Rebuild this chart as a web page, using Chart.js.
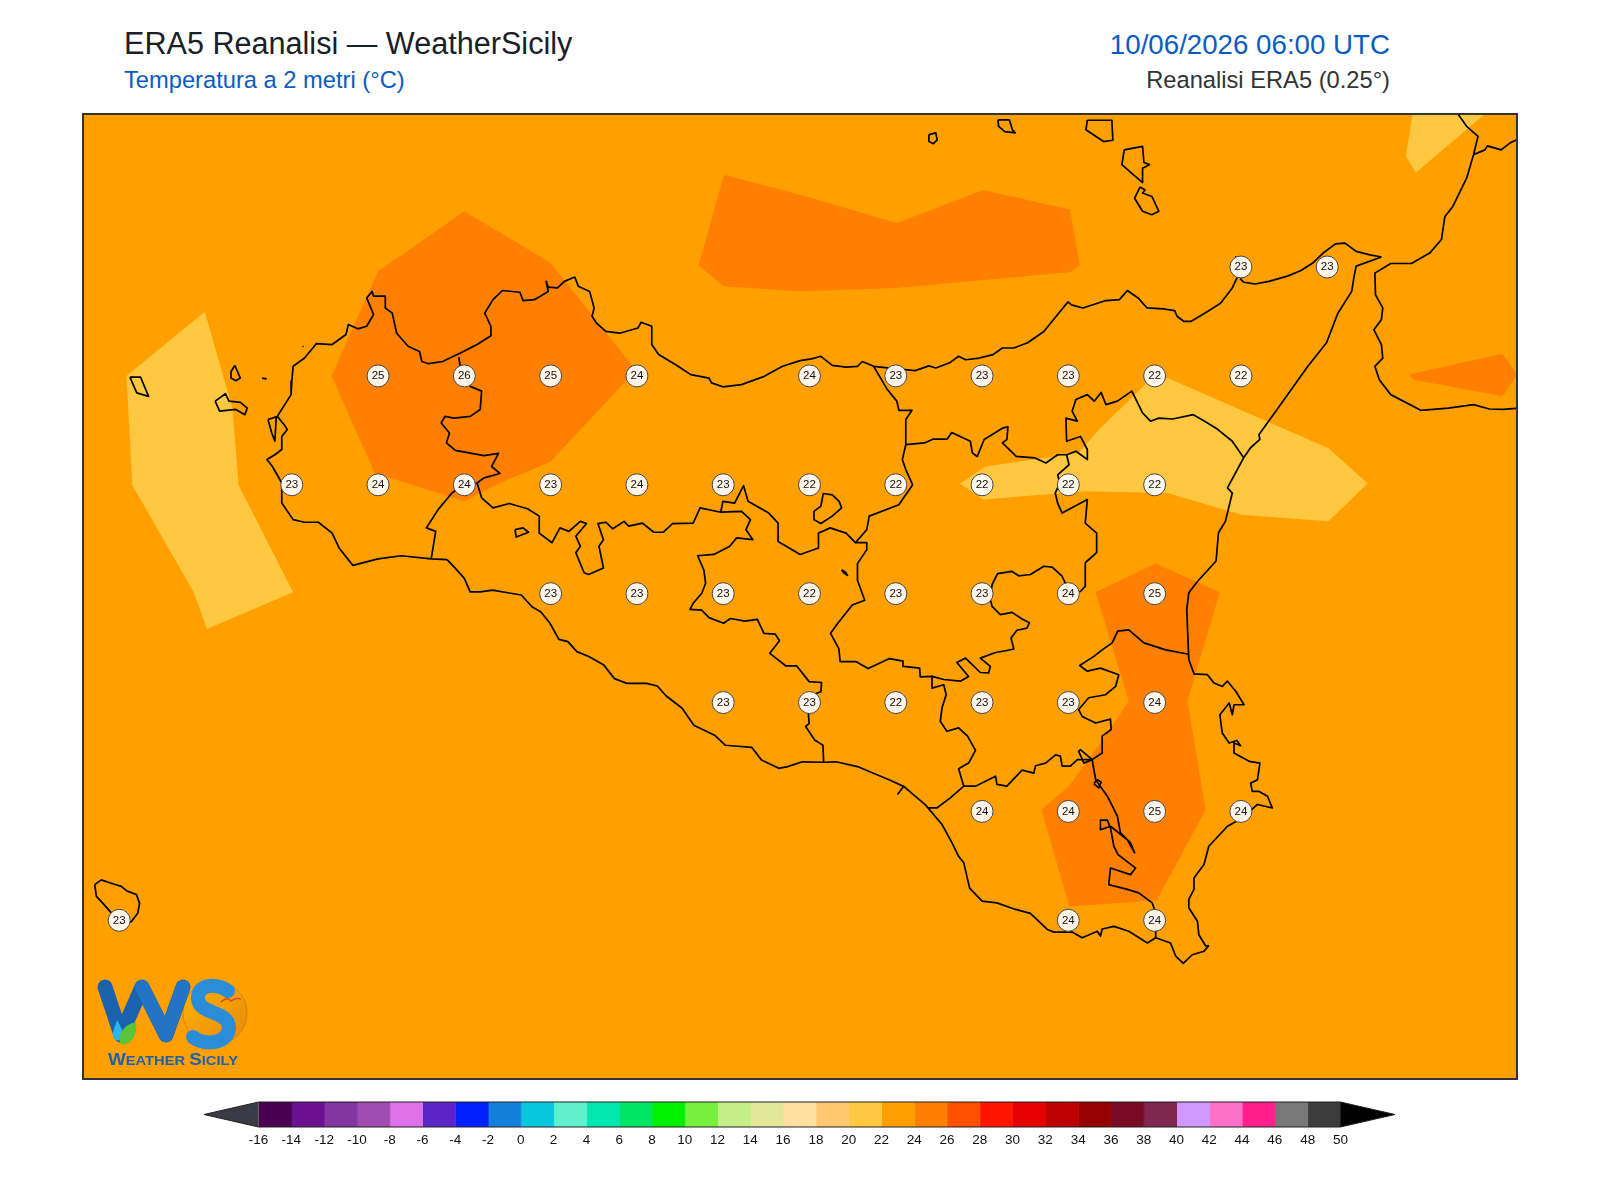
<!DOCTYPE html>
<html lang="it">
<head>
<meta charset="utf-8">
<title>ERA5 Reanalisi — WeatherSicily</title>
<script src="https://cdn.jsdelivr.net/npm/chart.js@4"></script>
<style>
    body { margin: 0; background: #fff; font-family: "Liberation Sans", Arial, sans-serif; }
    .txt { position: absolute; white-space: nowrap; }
    #titolo { left: 124px; top: 25px; font-size: 30.6px; line-height: 36px; color: #1a2028; }
    #sottotitolo { left: 124px; top: 66px; font-size: 23.7px; line-height: 28px; color: #0b5cc0; }
    #data { right: 210px; top: 30px; font-size: 27.7px; line-height: 30px; color: #0b5cc0; }
    #fonte { right: 210px; top: 66px; font-size: 23.7px; line-height: 28px; color: #333; }
    #cornice { position: absolute; left: 82px; top: 113px; width: 1432px; height: 963px; border: 2px solid #333; }
    #mappa { display: block; }
    #barra { position: absolute; left: 204px; top: 1100px; }
    #logo { position: absolute; left: 80px; top: 960px; }
</style>
</head>
<body>
<div class="txt" id="titolo">ERA5 Reanalisi — WeatherSicily</div>
<div class="txt" id="sottotitolo">Temperatura a 2 metri (°C)</div>
<div class="txt" id="data">10/06/2026 06:00 UTC</div>
<div class="txt" id="fonte">Reanalisi ERA5 (0.25°)</div>
<div id="cornice"><canvas id="mappa" width="1432" height="963"></canvas></div>
<canvas id="barra" width="1191" height="52"></canvas>
<svg id="logo" width="200" height="120" viewBox="0 0 200 120">
    <defs>
        <linearGradient id="sole" x1="0" y1="0" x2="1" y2="1">
            <stop offset="0" stop-color="#ffb400"/>
            <stop offset="1" stop-color="#e8890c"/>
        </linearGradient>
    </defs>
    <circle cx="135" cy="53" r="32" fill="url(#sole)" stroke="#b97a20" stroke-width="0.7"/>
    <path d="M25 27 L41 75 L62 27 L86 75 L103 27" fill="none" stroke="#1a62ae" stroke-width="15" stroke-linecap="round" stroke-linejoin="round"/>
    <path d="M62 27 L86 75 L103 27" fill="none" stroke="#2374c4" stroke-width="14" stroke-linecap="round" stroke-linejoin="round"/>
    <path d="M37 60 C41 68 45 72 42 78 C38 84 31 78 33 72 Z" fill="#29b6f0"/>
    <path d="M40 83 C38 72 46 64 56 62 C58 72 54 82 44 85 Z" fill="#5cc43c"/>
    <path d="M148 31 C134 22 117 25 118 39 C119 55 149 50 149 68 C148 84 124 86 113 77" fill="none" stroke="#2b8cd8" stroke-width="14" stroke-linecap="round"/>
    <path d="M141 42 Q147 36 151 41 Q156 37 161 39" fill="none" stroke="#d8481c" stroke-width="1.3"/>
    <text x="28" y="105" fill="#1a62ae" font-family="Liberation Sans" font-weight="bold" font-size="12.5" textLength="130" lengthAdjust="spacingAndGlyphs"><tspan font-size="16">W</tspan>EATHER <tspan font-size="16">S</tspan>ICILY</text>
</svg>

<script>
// griglia ERA5 0.25 gradi
const stazioniLon = [15.25, 15.5,
    12.75, 13, 13.25, 13.5, 14, 14.25, 14.5, 14.75, 15, 15.25,
    12.5, 12.75, 13, 13.25, 13.5, 13.75, 14, 14.25, 14.5, 14.75, 15,
    13.25, 13.5, 13.75, 14, 14.25, 14.5, 14.75, 15,
    13.75, 14, 14.25, 14.5, 14.75, 15,
    14.5, 14.75, 15, 15.25,
    12, 14.75, 15];
const stazioniLat = [38.25, 38.25,
    38, 38, 38, 38, 38, 38, 38, 38, 38, 38,
    37.75, 37.75, 37.75, 37.75, 37.75, 37.75, 37.75, 37.75, 37.75, 37.75, 37.75,
    37.5, 37.5, 37.5, 37.5, 37.5, 37.5, 37.5, 37.5,
    37.25, 37.25, 37.25, 37.25, 37.25, 37.25,
    37, 37, 37, 37,
    36.75, 36.75, 36.75];
const stazioniTemp = [23, 23,
    25, 26, 25, 24, 24, 23, 23, 23, 22, 22,
    23, 24, 24, 23, 24, 23, 22, 22, 22, 22, 22,
    23, 23, 23, 22, 23, 23, 24, 25,
    23, 23, 22, 23, 23, 24,
    24, 24, 25, 24,
    23, 24, 24];

// campiture (lon, lat)
const campoBase = [[11.8, 36.3], [16.15, 36.3], [16.15, 38.7], [11.8, 38.7]];
const campoOvest = [[12.248, 38.147], [12.328, 37.925], [12.346, 37.749], [12.504, 37.503], [12.254, 37.419], [12.216, 37.503], [12.038, 37.749], [12.021, 38]];
const campoCentro = [[14.978, 37.984], [15.038, 37.995], [15.504, 37.834], [15.617, 37.753], [15.504, 37.666], [15.251, 37.681], [15.038, 37.731], [14.799, 37.735], [14.503, 37.716], [14.436, 37.753], [14.51, 37.792], [14.779, 37.823], [14.839, 37.877]];
const campoNordEst = [[15.751, 38.62], [15.728, 38.504], [15.757, 38.467], [15.985, 38.62]];
const caldoNordOvest = [[13, 38.378], [13.25, 38.26], [13.49, 38.02], [13.47, 37.99], [13.25, 37.803], [13.104, 37.754], [13, 37.712], [12.74, 37.777], [12.615, 38], [12.75, 38.24]];
const caldoTirreno = [[13.752, 38.462], [13.973, 38.416], [14.253, 38.351], [14.503, 38.427], [14.755, 38.382], [14.783, 38.254], [14.755, 38.238], [14.253, 38.202], [13.973, 38.194], [13.752, 38.206], [13.679, 38.254]];
const caldoCalabria = [[15.737, 38.003], [16.008, 38.051], [16.05, 38.003], [16.008, 37.953], [15.75, 37.991]];
const caldoSudEst = [[15.003, 37.569], [15.189, 37.503], [15.095, 37.253], [15.148, 37.004], [15.006, 36.796], [14.753, 36.782], [14.672, 37.004], [14.751, 37.058], [14.843, 37.157], [14.925, 37.253], [14.829, 37.503]];

// costa della Sicilia, da Capo Peloro verso ovest
const costaNord = [[15.657, 38.273], [15.624, 38.278], [15.584, 38.286], [15.551, 38.305], [15.524, 38.303], [15.491, 38.284], [15.458, 38.259], [15.424, 38.242], [15.385, 38.229], [15.331, 38.217], [15.291, 38.211], [15.258, 38.215], [15.249, 38.222], [15.258, 38.244], [15.235, 38.273], [15.241, 38.229], [15.225, 38.202], [15.191, 38.167], [15.145, 38.144], [15.105, 38.125], [15.085, 38.125], [15.065, 38.137], [15.058, 38.15], [15.025, 38.154], [14.978, 38.156], [14.952, 38.179], [14.921, 38.196], [14.898, 38.175], [14.859, 38.173], [14.792, 38.156], [14.759, 38.163], [14.749, 38.17], [14.719, 38.141], [14.679, 38.102], [14.632, 38.076], [14.592, 38.064], [14.559, 38.064], [14.532, 38.049], [14.492, 38.041], [14.452, 38.037], [14.432, 38.045], [14.406, 38.03], [14.366, 38.018], [14.346, 38.023], [14.306, 38.012], [14.253, 38.016], [14.186, 38.022], [14.153, 38.033], [14.139, 38.022], [14.106, 38.02], [14.066, 38.024], [14.033, 38.045], [14.006, 38.039], [13.973, 38.035], [13.922, 38.022], [13.869, 37.999], [13.803, 37.98], [13.749, 37.975], [13.716, 37.984], [13.709, 37.995], [13.656, 38.003], [13.616, 38.024], [13.563, 38.049], [13.543, 38.072], [13.543, 38.114], [13.512, 38.123], [13.503, 38.11], [13.45, 38.098], [13.41, 38.102], [13.383, 38.121], [13.37, 38.137], [13.376, 38.156], [13.363, 38.194], [13.33, 38.206], [13.32, 38.227], [13.29, 38.217], [13.27, 38.202], [13.243, 38.204], [13.237, 38.217], [13.243, 38.194], [13.203, 38.175], [13.17, 38.173], [13.161, 38.192], [13.11, 38.196], [13.083, 38.175], [13.059, 38.144], [13.077, 38.114], [13.077, 38.092], [13.037, 38.072], [12.99, 38.053], [12.937, 38.033], [12.897, 38.028], [12.877, 38.033], [12.87, 38.056], [12.837, 38.068], [12.804, 38.098], [12.791, 38.144], [12.771, 38.156], [12.771, 38.183], [12.737, 38.183], [12.733, 38.194], [12.717, 38.179], [12.737, 38.141], [12.717, 38.114], [12.691, 38.108], [12.664, 38.118], [12.657, 38.095], [12.617, 38.072], [12.571, 38.074], [12.537, 38.041], [12.504, 38.022], [12.5, 37.988], [12.498, 37.957], [12.458, 37.907]];
const costaOvest = [[12.458, 37.907], [12.478, 37.888], [12.487, 37.877], [12.471, 37.861], [12.471, 37.831], [12.451, 37.819], [12.428, 37.808], [12.444, 37.792], [12.471, 37.754], [12.471, 37.708], [12.504, 37.67], [12.537, 37.664], [12.577, 37.664], [12.617, 37.639], [12.637, 37.605], [12.677, 37.565], [12.75, 37.58], [12.817, 37.587], [12.904, 37.58], [12.95, 37.578]];
const costaSud = [[12.95, 37.578], [12.974, 37.558], [13, 37.535], [13.017, 37.504], [13.046, 37.504], [13.082, 37.508], [13.134, 37.501], [13.165, 37.497], [13.196, 37.47], [13.222, 37.458], [13.248, 37.432], [13.274, 37.395], [13.3, 37.39], [13.326, 37.367], [13.362, 37.355], [13.404, 37.336], [13.435, 37.305], [13.471, 37.294], [13.528, 37.294], [13.559, 37.288], [13.585, 37.265], [13.631, 37.237], [13.665, 37.198], [13.725, 37.175], [13.756, 37.152], [13.833, 37.147], [13.861, 37.118], [13.911, 37.099], [13.937, 37.103], [13.979, 37.114], [14.041, 37.113], [14.077, 37.114], [14.139, 37.103], [14.232, 37.072], [14.274, 37.057], [14.336, 37.015], [14.384, 36.97], [14.413, 36.928], [14.432, 36.897], [14.447, 36.882], [14.464, 36.824], [14.5, 36.794], [14.543, 36.79], [14.597, 36.775], [14.64, 36.766], [14.689, 36.729], [14.708, 36.723], [14.761, 36.723], [14.79, 36.71], [14.834, 36.725], [14.843, 36.714], [14.848, 36.73], [14.882, 36.736], [14.925, 36.725], [14.979, 36.698], [15.003, 36.71], [15.046, 36.698], [15.061, 36.668], [15.083, 36.651], [15.109, 36.671], [15.143, 36.679], [15.157, 36.692]];
const costaEst = [[15.157, 36.692], [15.148, 36.691], [15.128, 36.717], [15.124, 36.748], [15.099, 36.779], [15.099, 36.798], [15.114, 36.821], [15.114, 36.847], [15.143, 36.878], [15.157, 36.92], [15.211, 36.966], [15.254, 36.985], [15.298, 37.016], [15.341, 37.008], [15.327, 37.035], [15.303, 37.046], [15.283, 37.046], [15.278, 37.065], [15.298, 37.073], [15.305, 37.111], [15.274, 37.115], [15.23, 37.134], [15.23, 37.157], [15.249, 37.151], [15.238, 37.163], [15.216, 37.157], [15.196, 37.18], [15.189, 37.222], [15.216, 37.249], [15.225, 37.222], [15.23, 37.245], [15.259, 37.245], [15.235, 37.276], [15.211, 37.299], [15.196, 37.287], [15.172, 37.295], [15.153, 37.314], [15.114, 37.316], [15.099, 37.349], [15.093, 37.463], [15.099, 37.502], [15.124, 37.528], [15.178, 37.575], [15.185, 37.64], [15.205, 37.666], [15.225, 37.731], [15.211, 37.743], [15.258, 37.812], [15.278, 37.835], [15.305, 37.854], [15.302, 37.865], [15.351, 37.919], [15.444, 38.022], [15.498, 38.076], [15.531, 38.144], [15.571, 38.194], [15.578, 38.229], [15.584, 38.252], [15.657, 38.273]];
const costaCalabria = [[15.871, 38.61], [15.904, 38.573], [15.937, 38.55], [15.924, 38.508], [15.904, 38.454], [15.864, 38.389], [15.841, 38.366], [15.831, 38.313], [15.797, 38.282], [15.744, 38.258], [15.684, 38.258], [15.638, 38.236], [15.64, 38.186], [15.661, 38.156], [15.657, 38.129], [15.635, 38.106], [15.657, 38.072], [15.661, 38.041], [15.638, 38.022], [15.651, 37.991], [15.684, 37.957], [15.771, 37.921], [15.851, 37.926], [15.924, 37.934], [15.97, 37.924], [16.01, 37.923], [16.06, 37.926]];
const confineCalabria = [[15.924, 38.508], [15.957, 38.519], [15.964, 38.528], [16.004, 38.519], [16.03, 38.535], [16.06, 38.546]];

// confini provinciali
const confineTrapani = [[12.984, 38.043], [12.988, 38.022], [13.017, 37.976], [13.05, 37.965], [13.046, 37.923], [13.017, 37.907], [12.97, 37.903], [12.944, 37.907], [12.933, 37.892], [12.957, 37.869], [12.948, 37.846], [12.974, 37.829], [13.057, 37.817], [13.099, 37.822], [13.079, 37.792], [13.103, 37.776], [13.057, 37.766], [13.037, 37.754], [13.001, 37.752], [12.964, 37.731], [12.924, 37.693], [12.89, 37.651], [12.917, 37.643], [12.904, 37.58]];
const confinePalermo = [[13.037, 37.754], [13.05, 37.72], [13.083, 37.697], [13.13, 37.707], [13.183, 37.695], [13.217, 37.678], [13.217, 37.639], [13.254, 37.617], [13.277, 37.651], [13.303, 37.643], [13.336, 37.666], [13.354, 37.661], [13.323, 37.632], [13.336, 37.609], [13.323, 37.594], [13.347, 37.548], [13.36, 37.544], [13.403, 37.559], [13.39, 37.609], [13.403, 37.624], [13.387, 37.661], [13.41, 37.664], [13.43, 37.649], [13.463, 37.666], [13.476, 37.655], [13.516, 37.662], [13.549, 37.641], [13.576, 37.641], [13.603, 37.661], [13.663, 37.662], [13.683, 37.697], [13.743, 37.687], [13.749, 37.712], [13.783, 37.708], [13.809, 37.748], [13.822, 37.712], [13.882, 37.685], [13.909, 37.662], [13.909, 37.62], [13.973, 37.59], [14.026, 37.605], [14.026, 37.639], [14.06, 37.651], [14.106, 37.639], [14.133, 37.617], [14.166, 37.647], [14.173, 37.678], [14.259, 37.704], [14.299, 37.75], [14.279, 37.785], [14.269, 37.808], [14.279, 37.842], [14.279, 37.9], [14.297, 37.921], [14.259, 37.921], [14.253, 37.942], [14.226, 37.968], [14.186, 38.022]];
const confineMessina = [[14.279, 37.842], [14.333, 37.846], [14.359, 37.855], [14.399, 37.855], [14.412, 37.87], [14.466, 37.85], [14.472, 37.823], [14.486, 37.815], [14.506, 37.854], [14.559, 37.88], [14.575, 37.883], [14.572, 37.854], [14.559, 37.846], [14.599, 37.815], [14.652, 37.812], [14.685, 37.8], [14.719, 37.819], [14.745, 37.819], [14.772, 37.827], [14.805, 37.808], [14.805, 37.831], [14.785, 37.861], [14.745, 37.85], [14.743, 37.903], [14.776, 37.896], [14.761, 37.919], [14.772, 37.946], [14.805, 37.957], [14.825, 37.942], [14.845, 37.962], [14.859, 37.934], [14.892, 37.942], [14.934, 37.965], [14.965, 37.915], [14.988, 37.896], [15.012, 37.903], [15.052, 37.901], [15.112, 37.911], [15.145, 37.896], [15.178, 37.88], [15.225, 37.85], [15.258, 37.812]];
const confineEnna = [[14.745, 37.819], [14.752, 37.796], [14.719, 37.773], [14.725, 37.754], [14.712, 37.731], [14.719, 37.708], [14.732, 37.685], [14.805, 37.716], [14.799, 37.662], [14.832, 37.639], [14.832, 37.594], [14.799, 37.571], [14.799, 37.517], [14.785, 37.505], [14.754, 37.502], [14.732, 37.54], [14.703, 37.561], [14.679, 37.563], [14.64, 37.544], [14.606, 37.541], [14.587, 37.551], [14.545, 37.546], [14.529, 37.521], [14.524, 37.486], [14.529, 37.471], [14.553, 37.452], [14.587, 37.457], [14.616, 37.442], [14.637, 37.433], [14.63, 37.421], [14.601, 37.416], [14.584, 37.398], [14.592, 37.373], [14.568, 37.369], [14.539, 37.365], [14.495, 37.352], [14.524, 37.333], [14.519, 37.318], [14.495, 37.319], [14.452, 37.352], [14.427, 37.342], [14.461, 37.31], [14.437, 37.299], [14.389, 37.303], [14.355, 37.31], [14.321, 37.309], [14.319, 37.329], [14.273, 37.333], [14.271, 37.345], [14.232, 37.351], [14.17, 37.328], [14.134, 37.344], [14.089, 37.344], [14.085, 37.374], [14.061, 37.409], [14.082, 37.432], [14.124, 37.474], [14.16, 37.485], [14.139, 37.531], [14.139, 37.569], [14.165, 37.6], [14.166, 37.617], [14.133, 37.617]];
const confineAgrigento = [[13.743, 37.687], [13.803, 37.689], [13.829, 37.67], [13.816, 37.647], [13.836, 37.624], [13.789, 37.628], [13.769, 37.609], [13.723, 37.59], [13.676, 37.587], [13.694, 37.554], [13.699, 37.524], [13.688, 37.501], [13.663, 37.478], [13.654, 37.464], [13.688, 37.462], [13.709, 37.445], [13.751, 37.432], [13.771, 37.443], [13.813, 37.437], [13.849, 37.441], [13.868, 37.409], [13.901, 37.407], [13.913, 37.392], [13.885, 37.363], [13.932, 37.334], [13.963, 37.334], [13.999, 37.298], [14.035, 37.296], [14.033, 37.275], [14.02, 37.271], [14.002, 37.25], [13.997, 37.221], [13.999, 37.202], [13.989, 37.195], [14.015, 37.164], [14.039, 37.152], [14.041, 37.113]];
const confineCaltanissetta = [[14.355, 37.31], [14.355, 37.283], [14.389, 37.291], [14.396, 37.268], [14.384, 37.238], [14.379, 37.207], [14.398, 37.184], [14.432, 37.192], [14.458, 37.173], [14.481, 37.14], [14.461, 37.111], [14.432, 37.098], [14.447, 37.058], [14.408, 37.031], [14.369, 37.008], [14.345, 37.008]];
const confineRagusa = [[14.447, 37.058], [14.481, 37.058], [14.539, 37.081], [14.543, 37.062], [14.572, 37.058], [14.616, 37.095], [14.65, 37.088], [14.655, 37.105], [14.684, 37.111], [14.713, 37.13], [14.727, 37.127], [14.732, 37.104], [14.756, 37.104], [14.776, 37.119], [14.819, 37.119]];
const confineCatania = [[15.099, 37.361], [15.032, 37.371], [14.969, 37.387], [14.925, 37.417], [14.893, 37.414], [14.877, 37.387], [14.848, 37.371], [14.824, 37.356], [14.783, 37.335], [14.805, 37.322], [14.843, 37.329], [14.896, 37.314], [14.887, 37.287], [14.858, 37.268], [14.809, 37.261], [14.78, 37.234], [14.79, 37.218], [14.829, 37.203], [14.872, 37.212], [14.874, 37.188], [14.848, 37.173], [14.848, 37.134], [14.819, 37.119], [14.785, 37.142], [14.78, 37.138], [14.795, 37.111], [14.819, 37.119]];
const confineSiracusa = [[14.819, 37.119], [14.829, 37.073], [14.863, 37.035], [14.892, 36.989], [14.901, 36.951], [14.93, 36.928], [14.942, 36.905], [14.921, 36.935], [14.872, 36.966], [14.843, 36.958], [14.843, 36.98], [14.863, 36.98], [14.872, 36.962], [14.882, 36.92], [14.894, 36.901], [14.945, 36.87], [14.93, 36.855], [14.872, 36.87], [14.867, 36.832], [14.921, 36.821], [14.954, 36.813], [14.993, 36.79], [15.003, 36.767], [15.003, 36.71]];
const foceGela = [[14.273, 37.058], [14.255, 37.039]];

// isole e laghi (contorni chiusi)
const isole = [
    [[14.346, 38.554], [14.366, 38.558], [14.37, 38.542], [14.359, 38.533], [14.346, 38.538], [14.346, 38.554]],
    [[14.546, 38.588], [14.579, 38.588], [14.588, 38.565], [14.596, 38.558], [14.566, 38.561], [14.548, 38.573], [14.546, 38.588]],
    [[14.805, 38.587], [14.876, 38.587], [14.879, 38.541], [14.852, 38.538], [14.801, 38.565], [14.805, 38.587]],
    [[14.912, 38.519], [14.965, 38.527], [14.969, 38.49], [14.985, 38.485], [14.965, 38.477], [14.965, 38.444], [14.938, 38.462], [14.905, 38.485], [14.912, 38.519]],
    [[14.958, 38.434], [14.972, 38.427], [14.965, 38.42], [14.992, 38.412], [15.012, 38.378], [14.992, 38.37], [14.965, 38.378], [14.942, 38.408], [14.958, 38.434]],
    [[12.031, 37.997], [12.062, 37.997], [12.085, 37.953], [12.051, 37.961], [12.031, 37.997]],
    [[12.335, 38.024], [12.351, 37.995], [12.338, 37.989], [12.324, 37.995], [12.324, 38.01], [12.335, 38.024]],
    [[12.278, 37.942], [12.308, 37.959], [12.318, 37.942], [12.351, 37.939], [12.371, 37.926], [12.364, 37.911], [12.338, 37.923], [12.291, 37.919], [12.278, 37.942]],
    [[12.414, 37.995], [12.427, 37.993]],
    [[12.531, 38.068], [12.534, 38.067]],
    [[12.431, 37.9], [12.455, 37.906], [12.451, 37.85], [12.442, 37.869], [12.431, 37.9]],
    [[11.929, 36.832], [11.948, 36.843], [11.977, 36.835], [12.006, 36.828], [12.021, 36.818], [12.05, 36.809], [12.059, 36.789], [12.054, 36.767], [12.035, 36.747], [12, 36.74], [11.977, 36.767], [11.953, 36.789], [11.934, 36.805], [11.929, 36.832]],
    [[13.147, 37.647], [13.17, 37.651], [13.186, 37.641], [13.15, 37.63], [13.147, 37.647]],
    [[14.013, 37.689], [14.013, 37.67], [14.033, 37.661], [14.066, 37.678], [14.093, 37.697], [14.086, 37.712], [14.066, 37.727], [14.04, 37.73], [14.033, 37.701], [14.013, 37.689]],
    [[14.093, 37.555], [14.106, 37.548], [14.11, 37.542], [14.099, 37.548], [14.093, 37.555]],
    [[14.824, 37.064], [14.834, 37.073], [14.845, 37.067], [14.838, 37.054], [14.824, 37.064]]
];

// scala colori
const scalaTick = [-16, -14, -12, -10, -8, -6, -4, -2, 0, 2, 4, 6, 8, 10, 12, 14, 16, 18, 20, 22, 24, 26, 28, 30, 32, 34, 36, 38, 40, 42, 44, 46, 48, 50];
const scalaColori = ['#4a0050', '#6a1090', '#8336a0', '#a04cb0', '#de70e8', '#5c24c4', '#0020ff', '#1480dc', '#08c8e0', '#60f0cc', '#00e8b0', '#00e664', '#00f000', '#78f040', '#c4ee88', '#e2e898', '#ffe0a0', '#ffc870', '#ffc840', '#ffa000', '#ff8000', '#ff5000', '#ff1400', '#e60000', '#bd0000', '#960000', '#780a22', '#7e2850', '#d098ff', '#ff70c8', '#ff1e8c', '#787878', '#3c3c3c'];
const freccia = 3.33; // lunghezza delle frecce in unità di scala

function punti(lista) {
    return lista.map(p => ({ x: p[0], y: p[1] }));
}

function campitura(lista, colore, ordine) {
    return {
        data: punti(lista),
        showLine: true,
        fill: 'shape',
        backgroundColor: colore,
        borderColor: colore,
        borderWidth: 0,
        pointRadius: 0,
        order: ordine
    };
}

function tratto(lista) {
    return {
        data: punti(lista),
        showLine: true,
        fill: false,
        borderColor: '#000',
        borderWidth: 1.7,
        borderJoinStyle: 'round',
        pointRadius: 0,
        order: 1
    };
}

const etichetteStazioni = {
    id: 'etichetteStazioni',
    afterDatasetsDraw(chart) {
        const ctx = chart.ctx;
        const meta = chart.getDatasetMeta(0);
        ctx.save();
        ctx.font = '11.5px "Liberation Sans"';
        ctx.fillStyle = '#111';
        ctx.textAlign = 'center';
        ctx.textBaseline = 'middle';
        meta.data.forEach((punto, i) => {
            ctx.fillText(stazioniTemp[i], punto.x, punto.y);
        });
        ctx.restore();
    }
};

const stazioni = {
    data: stazioniLon.map((lon, i) => ({ x: lon, y: stazioniLat[i] })),
    pointRadius: 11,
    pointBackgroundColor: 'rgba(255, 251, 245, 0.95)',
    pointBorderColor: '#444',
    pointBorderWidth: 1,
    order: 0
};

const tratti = [costaNord, costaOvest, costaSud, costaEst, costaCalabria, confineCalabria, confineTrapani, confinePalermo, confineMessina, confineEnna, confineAgrigento, confineCaltanissetta, confineRagusa, confineCatania, confineSiracusa, foceGela].concat(isole);

new Chart(document.getElementById('mappa'), {
    type: 'scatter',
    data: {
        datasets: [
            stazioni,
            ...tratti.map(tratto),
            campitura(caldoNordOvest, '#ff8000', 2),
            campitura(caldoTirreno, '#ff8000', 2),
            campitura(caldoCalabria, '#ff8000', 2),
            campitura(caldoSudEst, '#ff8000', 2),
            campitura(campoOvest, '#ffc840', 2),
            campitura(campoCentro, '#ffc840', 2),
            campitura(campoNordEst, '#ffc840', 2),
            campitura(campoBase, '#ffa000', 3)
        ]
    },
    options: {
        responsive: false,
        animation: false,
        events: [],
        layout: { padding: 0, autoPadding: false },
        plugins: { legend: { display: false }, tooltip: { enabled: false } },
        scales: {
            x: { type: 'linear', display: false, min: 11.898, max: 16.047 },
            y: { type: 'linear', display: false, min: 36.388, max: 38.599 }
        }
    },
    plugins: [etichetteStazioni]
});

const bandeScala = scalaColori.map((colore, i) => {
    const da = scalaTick[i];
    const a = scalaTick[i + 1];
    return campitura([[da, 0], [a, 0], [a, 1], [da, 1]], colore, 2);
});
bandeScala.forEach(banda => { banda.borderWidth = 1; });

const primo = scalaTick[0];
const ultimo = scalaTick[scalaTick.length - 1];
const frecciaSinistra = campitura([[primo, 0], [primo - freccia, 0.5], [primo, 1]], '#3a3a46', 2);
const frecciaDestra = campitura([[ultimo, 0], [ultimo + freccia, 0.5], [ultimo, 1]], '#000000', 2);
const bordoScala = tratto([[primo, 1], [primo - freccia, 0.5], [primo, 0], [ultimo, 0], [ultimo + freccia, 0.5], [ultimo, 1], [primo, 1]]);
bordoScala.borderColor = '#222';
bordoScala.borderWidth = 1;
bordoScala.order = 1;
bordoScala.clip = false;

new Chart(document.getElementById('barra'), {
    type: 'scatter',
    data: { datasets: [bordoScala, frecciaSinistra, frecciaDestra, ...bandeScala] },
    options: {
        responsive: false,
        animation: false,
        events: [],
        layout: { padding: { top: 2, left: 0, right: 0, bottom: 0 }, autoPadding: false },
        plugins: { legend: { display: false }, tooltip: { enabled: false } },
        scales: {
            x: {
                type: 'linear',
                min: primo - freccia,
                max: ultimo + freccia,
                grid: { display: false, drawTicks: false },
                border: { display: false },
                afterBuildTicks(asse) {
                    asse.ticks = scalaTick.map(v => ({ value: v }));
                },
                ticks: {
                    autoSkip: false,
                    maxRotation: 0,
                    padding: 5,
                    color: '#111',
                    font: { family: 'Liberation Sans', size: 13.5 },
                    callback: v => String(v)
                }
            },
            y: { type: 'linear', display: false, min: 0, max: 1 }
        }
    }
});
</script>
</body>
</html>
